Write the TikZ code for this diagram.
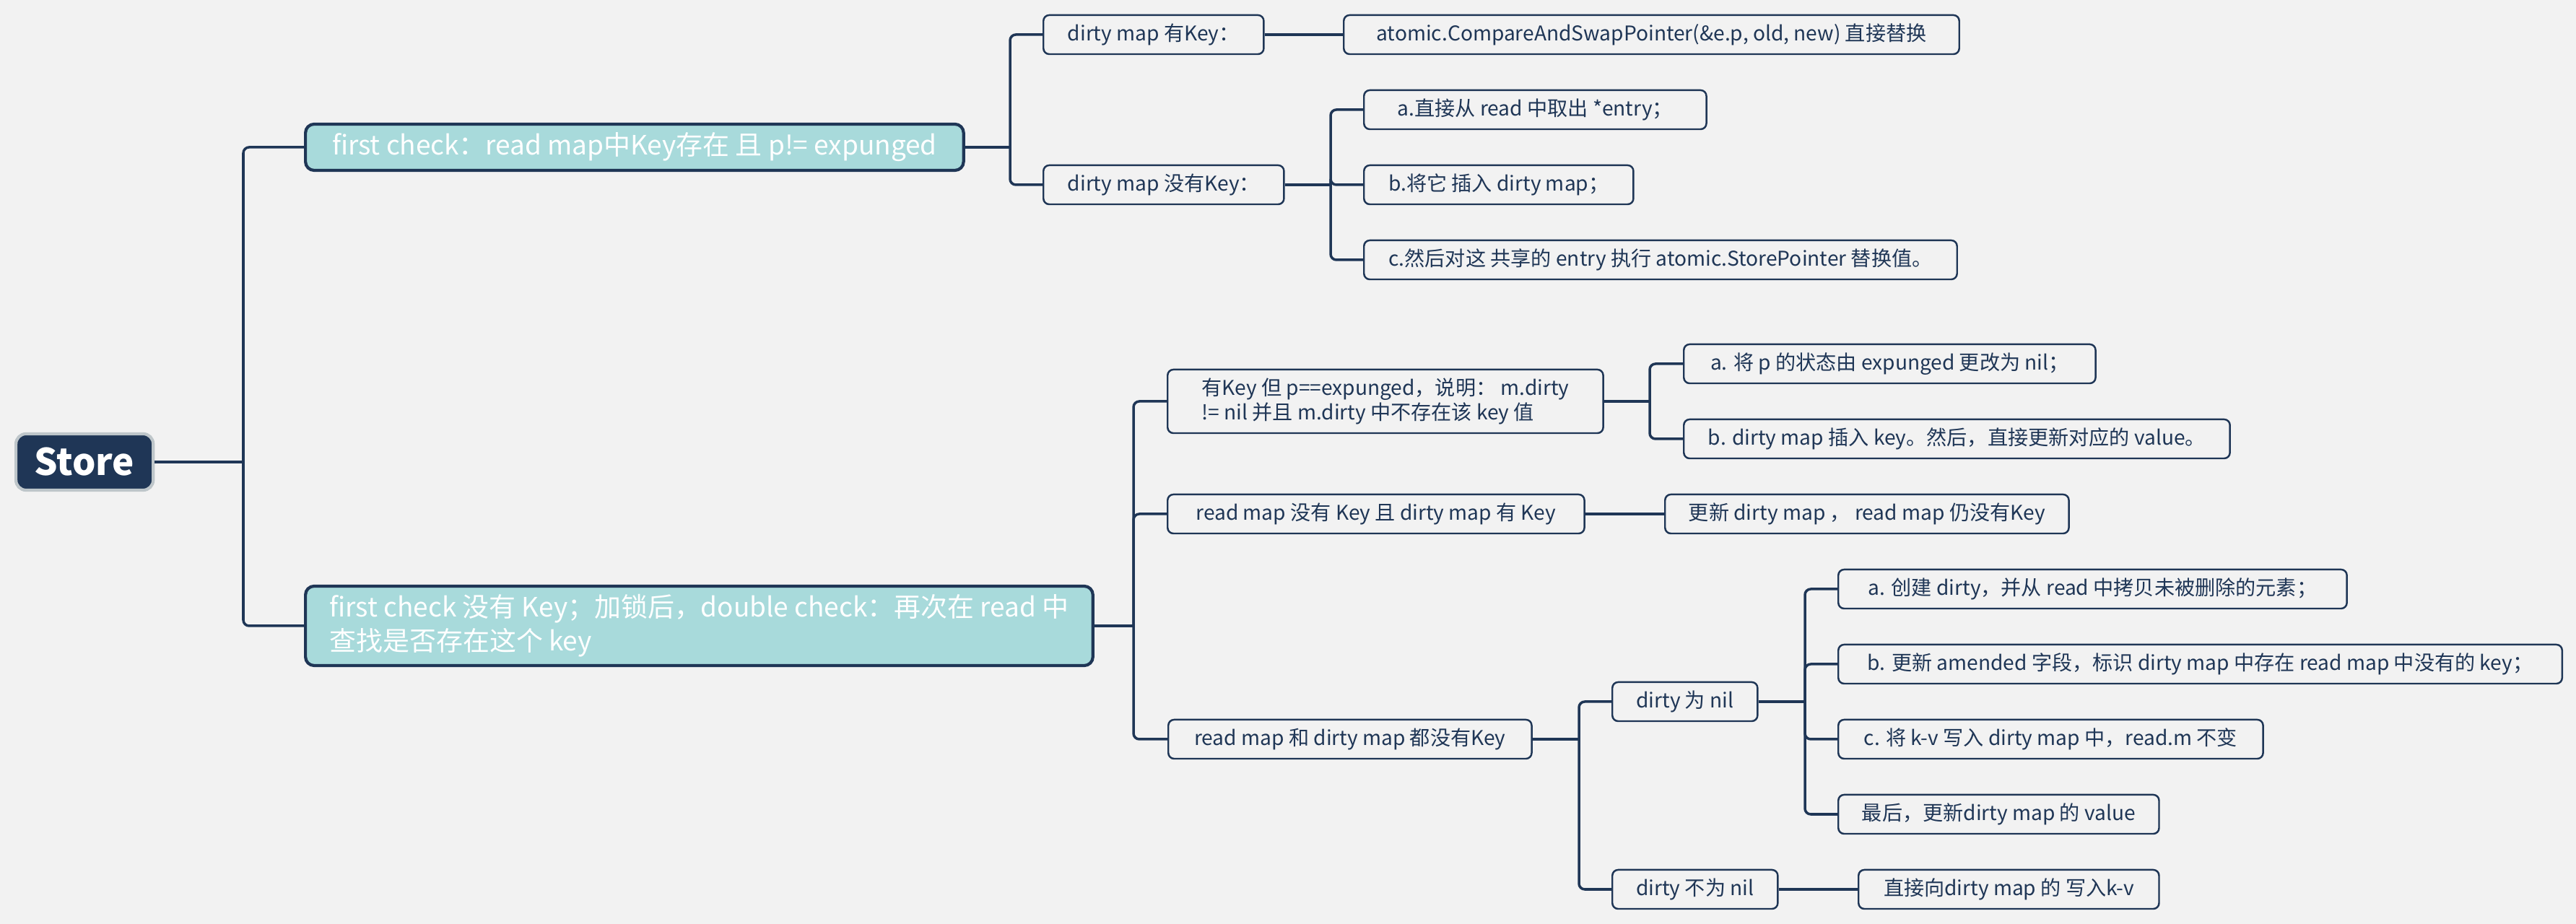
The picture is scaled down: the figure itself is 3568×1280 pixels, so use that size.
\documentclass[tikz,border=0pt]{standalone}
\usepackage{fontspec}
\setmainfont{Noto Sans CJK SC}
\definecolor{navy}{RGB}{31,54,86}
\definecolor{paper}{RGB}{242,242,242}
\definecolor{teal}{RGB}{168,218,219}
\definecolor{rootrim}{RGB}{190,198,202}

\begin{document}
\begin{tikzpicture}[x=0.01cm,y=-0.01cm]
\fill[paper] (0,0) rectangle (3568,1280);
\begin{scope}[every node/.style={rounded corners=0.14cm,fill=navy,draw=rootrim,line width=1.2pt,
              text=white,font=\fontsize{14.5}{16}\selectfont\bfseries,
              minimum width=1.9cm,minimum height=0.78cm,inner sep=0pt,anchor=west}]
    \node (store) at (20,640) {Store};
\end{scope}
\begin{scope}[every node/.style={rounded corners=0.12cm,fill=teal,draw=navy,line width=1.2pt,
              text=white,font=\fontsize{10.5}{13.4}\selectfont,inner sep=0pt,
              align=left,anchor=west}]
    \node[minimum width=9.11cm,minimum height=0.64cm] (m1) at (421,204) {first check：read map中Key存在 且 p!= expunged};
    \node[minimum width=10.9cm,minimum height=1.1cm] (m2) at (421,867) {first check 没有 Key；加锁后，double check：再次在 read 中\\查找是否存在这个 key};
\end{scope}
\begin{scope}[every node/.style={rounded corners=0.08cm,fill=paper,draw=navy,line width=0.7pt,
              text=navy,font=\fontsize{8}{9.7}\selectfont,inner sep=0pt,
              minimum height=0.54cm,align=left,anchor=west}]
    \node[minimum width=3.05cm] (a1) at (1444,48) {dirty map 有Key：};
    \node[minimum width=8.52cm] (a1x) at (1860,48) {atomic.CompareAndSwapPointer(\&e.p, old, new) 直接替换};
    \node[minimum width=3.33cm] (a2) at (1444,256) {dirty map 没有Key：};
    \node[minimum width=4.74cm] (a2a) at (1888,152) {a.直接从 read 中取出 *entry；};
    \node[minimum width=3.73cm] (a2b) at (1888,256) {b.将它 插入 dirty map；};
    \node[minimum width=8.21cm] (a2c) at (1888,360) {c.然后对这 共享的 entry 执行 atomic.StorePointer 替换值。};
    \node[minimum width=6.03cm,minimum height=0.88cm] (b1) at (1616,556) {有Key 但 p==expunged，说明： m.dirty\\!= nil 并且 m.dirty 中不存在该 key 值};
    \node[minimum width=5.7cm] (b1a) at (2331,504) {a. 将 p 的状态由 expunged 更改为 nil；};
    \node[minimum width=7.56cm] (b1b) at (2331,608) {b. dirty map 插入 key。然后，直接更新对应的 value。};
    \node[minimum width=5.77cm] (b2) at (1616,712) {read map 没有 Key 且 dirty map 有 Key};
    \node[minimum width=5.59cm] (b2x) at (2305,712) {更新 dirty map ， read map 仍没有Key};
    \node[minimum width=5.03cm] (b3) at (1617,1024) {read map 和 dirty map 都没有Key};
    \node[minimum width=2.01cm] (b3a) at (2232,972) {dirty 为 nil};
    \node[minimum width=7.04cm] (b3a1) at (2545,816) {a. 创建 dirty，并从 read 中拷贝未被删除的元素；};
    \node[minimum width=10.02cm] (b3a2) at (2545,920) {b. 更新 amended 字段，标识 dirty map 中存在 read map 中没有的 key；};
    \node[minimum width=5.88cm] (b3a3) at (2545,1024) {c. 将 k-v 写入 dirty map 中，read.m 不变};
    \node[minimum width=4.44cm] (b3a4) at (2545,1128) {最后，更新dirty map 的 value};
    \node[minimum width=2.29cm] (b3b) at (2232,1232) {dirty 不为 nil};
    \node[minimum width=4.16cm] (b3b1) at (2573,1232) {直接向dirty map 的 写入k-v};
\end{scope}
% junctions
\coordinate (j0) at (337,640);
\coordinate (j1) at (1399,204);
\coordinate (j11) at (1843,256);
\coordinate (j2) at (1570,867);
\coordinate (j21) at (2285,556);
\coordinate (j23) at (2187,1024);
\coordinate (j231) at (2500,972);
\begin{scope}[draw=navy,line width=1pt,rounded corners=0.08cm]
    \draw (store.east) -- (j0);
    \draw (j0) |- (m1.west);
    \draw (j0) |- (m2.west);
    \draw (m1.east) -- (j1);
    \draw (j1) |- (a1.west);
    \draw (j1) |- (a2.west);
    \draw (a1.east) -- (a1x.west);
    \draw (a2.east) -- (j11);
    \draw (j11) |- (a2a.west);
    \draw (j11) |- (a2b.west);
    \draw (j11) |- (a2c.west);
    \draw (m2.east) -- (j2);
    \draw (j2) |- (b1.west);
    \draw (j2) |- (b2.west);
    \draw (j2) |- (b3.west);
    \draw (b1.east) -- (j21);
    \draw (j21) |- (b1a.west);
    \draw (j21) |- (b1b.west);
    \draw (b2.east) -- (b2x.west);
    \draw (b3.east) -- (j23);
    \draw (j23) |- (b3a.west);
    \draw (j23) |- (b3b.west);
    \draw (b3a.east) -- (j231);
    \draw (j231) |- (b3a1.west);
    \draw (j231) |- (b3a2.west);
    \draw (j231) |- (b3a3.west);
    \draw (j231) |- (b3a4.west);
    \draw (b3b.east) -- (b3b1.west);
\end{scope}
\end{tikzpicture}
\end{document}
